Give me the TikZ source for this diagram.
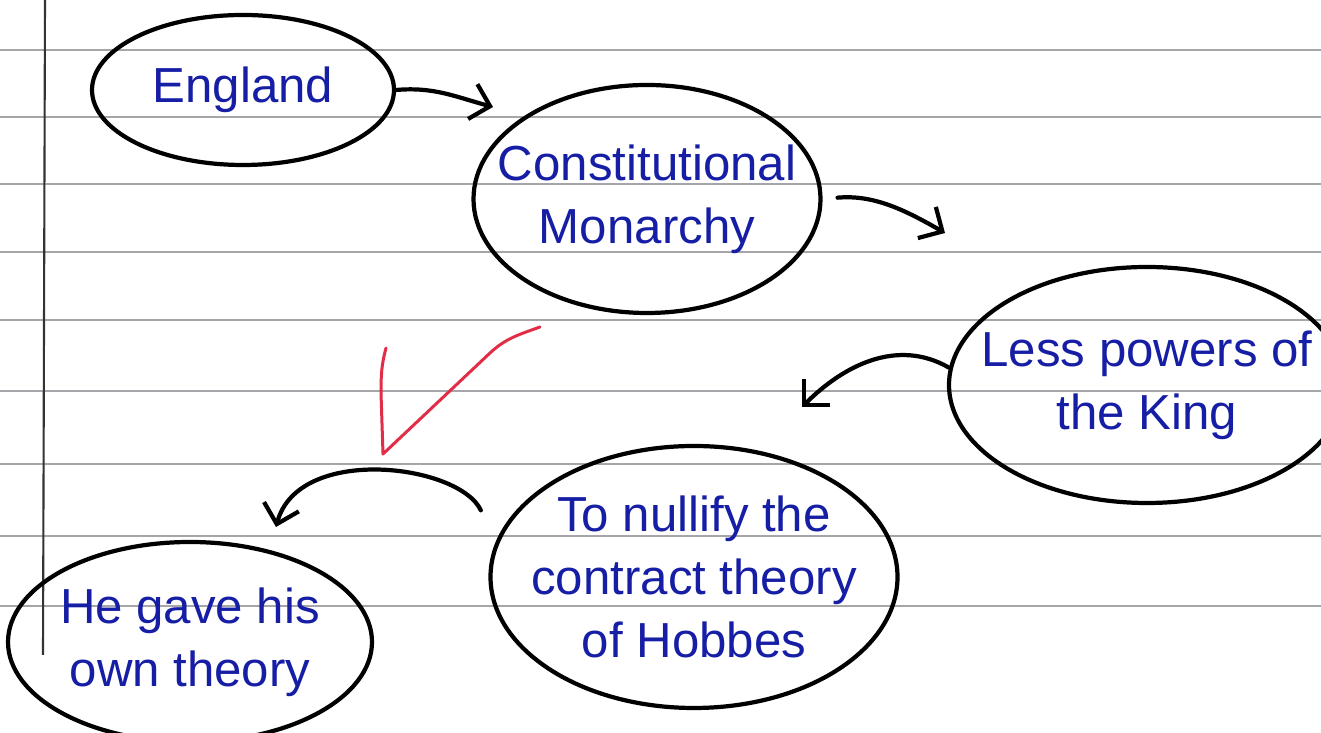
\documentclass[tikz,border=0pt]{standalone}
\usepackage{fontspec}
\setmainfont{Liberation Sans}
\usepackage{tikz}
\usetikzlibrary{arrows.meta,positioning,shapes.geometric}
\definecolor{inkblue}{RGB}{22,30,165}
\definecolor{inkred}{RGB}{225,45,70}
\definecolor{ruleline}{RGB}{165,165,170}
\tikzset{
  bubble/.style={ellipse, draw=black, line width=1.2pt, inner xsep=-3mm, inner ysep=0pt,
    text=inkblue, align=center, font=\fontsize{14}{18}\selectfont},
  flow/.style={-{Straight Barb[length=1.8mm,width=3.6mm]}, line width=1.2pt,
    line cap=round, line join=round},
  ruleln/.style={line width=0.45pt, ruleline},
  marginln/.style={line width=0.6pt, black!80},
  tickln/.style={line width=0.85pt, inkred, line cap=round, line join=round},
}

\begin{document}
\begin{tikzpicture}[x=0.1mm,y=0.1mm]
        \useasboundingbox (0,0) rectangle (1321,733);
        \clip (0,0) rectangle (1321,733);
        \fill[white] (0,0) rectangle (1321,733);
        \foreach \ry in {683,616,549,481,413,342,269,197,127}
          \draw[ruleln] (0,\ry) -- (1321,\ry);
        \draw[marginln] (45,733) -- (43,78);
        \node[bubble, minimum width=30.2mm, minimum height=15mm] (england) at (243,643) {England};
        \node[bubble, minimum width=34.7mm, minimum height=22.8mm] (monarchy) at (647,534) {Constitutional\\Monarchy};
        \node[bubble, minimum width=39.6mm, minimum height=23.6mm] (king) at (1147,348) {Less powers of\\the King};
        \node[bubble, minimum width=40.7mm, minimum height=26.2mm] (nullify) at (694,156) {To nullify the\\contract theory\\of Hobbes};
        \node[bubble, minimum width=36.4mm, minimum height=20mm] (owntheory) at (190,91) {He gave his\\own theory};
        \coordinate (tipmonarchy) at (493,626);
        \coordinate (tipking) at (945,500);
        \coordinate (tipnullify) at (802,326);
        \coordinate (tipown) at (276,206);
        \draw[flow] (england.east) to[out=5, in=165] (tipmonarchy);
        \draw[flow, shorten <=1.5mm] (monarchy.east) to[out=5, in=150] (tipking);
        \draw[flow] (king.175) to[out=150, in=45] (tipnullify);
        \draw[flow, shorten <=3.5mm] (nullify.170) to[out=115, in=75] (tipown);
        \draw[tickln] (386,385) to[out=255, in=90] (381,340) -- (383,279) -- (490,380)
          to[out=43, in=200] (540,406);
      \end{tikzpicture}
\end{document}
